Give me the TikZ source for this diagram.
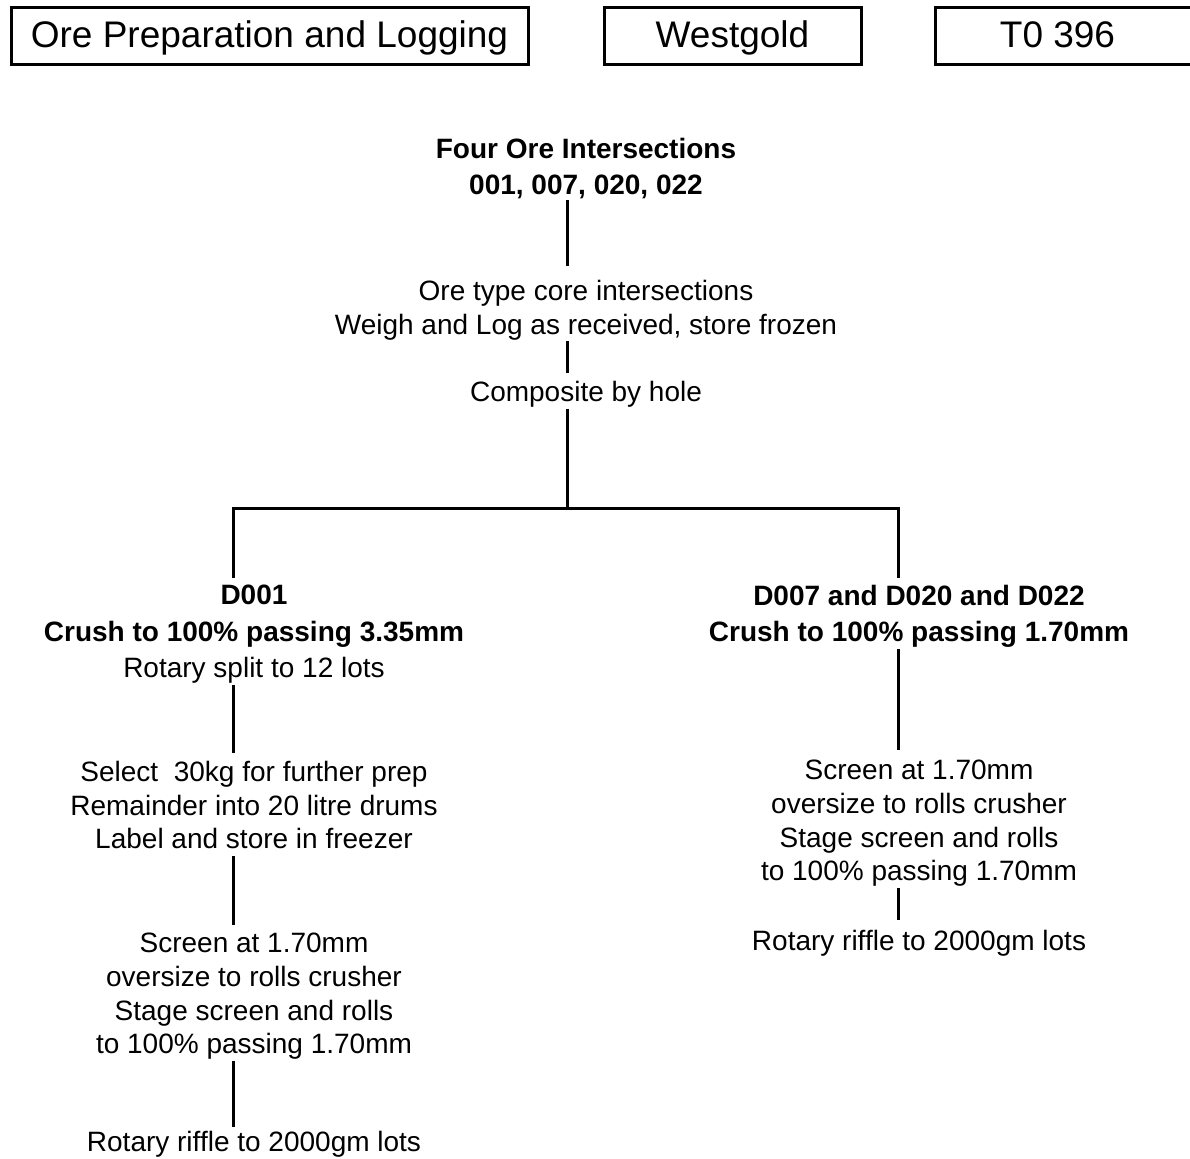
\documentclass[tikz,border=0pt]{standalone}
\usepackage{fontspec}
\setmainfont{Liberation Sans}
\begin{document}
\begin{tikzpicture}[x=1pt,y=-1pt,
  hdr/.style={draw, line width=3pt, minimum height=57pt, inner xsep=0pt, inner ysep=0pt,
    text height=26pt, text depth=3pt, font=\fontsize{37}{44}\selectfont},
  txt/.style={align=center, inner sep=0pt, anchor=north, font=\fontsize{28}{33.7}\selectfont},
  btxt/.style={txt, font=\fontsize{28}{36.5}\selectfont\bfseries},
  conn/.style={line width=3pt},
  gapbelow/.style={shorten >=8pt},
  gapabove/.style={shorten <=1pt}]
\useasboundingbox (0,0) rectangle (1190,1158);

% header boxes
\node[hdr, minimum width=517pt] (hdrA) at (269.5,36.5) {Ore Preparation and Logging};
\node[hdr, minimum width=257pt] (hdrB) at (732.5,36.5) {Westgold};
\node[hdr, minimum width=265pt] (hdrC) at (1067.5,36.5) {\hspace*{-20pt}T0 396};

% column positions
\coordinate (ccol) at (567,0);
\coordinate (lcol) at (233,0);
\coordinate (rcol) at (898,0);
\coordinate (split) at (567,508);

% centre column
\node[btxt, font=\fontsize{28}{36}\selectfont\bfseries] (title) at (586,138) {Four Ore Intersections\\001, 007, 020, 022};
\node[txt] (ore) at (586,280) {Ore type core intersections\\Weigh and Log as received, store frozen};
\node[txt] (comp) at (586,381) {Composite by hole};

% left column
\node[txt, font=\fontsize{28}{36.5}\selectfont] (dA) at (254,585)
  {\textbf{D001}\\\textbf{Crush to 100\% passing 3.35mm}\\Rotary split to 12 lots};
\node[txt] (selA) at (254,761) {Select \ 30kg for further prep\\Remainder into 20 litre drums\\Label and store in freezer};
\node[txt] (scrA) at (254,933) {Screen at 1.70mm\\oversize to rolls crusher\\Stage screen and rolls\\to 100\% passing 1.70mm};
\node[txt] (rotA) at (254,1131) {Rotary riffle to 2000gm lots};

% right column
\node[btxt] (dB) at (919,585) {D007 and D020 and D022\\Crush to 100\% passing 1.70mm};
\node[txt] (scrB) at (919,760) {Screen at 1.70mm\\oversize to rolls crusher\\Stage screen and rolls\\to 100\% passing 1.70mm};
\node[txt] (rotB) at (919,930) {Rotary riffle to 2000gm lots};

% connectors
\draw[conn, gapabove, shorten >=14pt] (title.south -| ccol) -- (ore.north -| ccol);
\draw[conn, gapabove, gapbelow] (ore.south -| ccol) -- (comp.north -| ccol);
\draw[conn, gapabove] (comp.south -| ccol) -- (split);
\draw[conn, shorten >=7pt] (split) -| (dA.north -| lcol);
\draw[conn, shorten >=7pt] (split) -| (dB.north -| rcol);
\draw[conn, gapabove, gapbelow] (dA.south -| lcol) -- (selA.north -| lcol);
\draw[conn, shorten <=7pt, gapbelow] (selA.south -| lcol) -- (scrA.north -| lcol);
\draw[conn, gapabove, shorten >=4pt] (scrA.south -| lcol) -- (rotA.north -| lcol);
\draw[conn, gapabove, shorten >=10pt] (dB.south -| rcol) -- (scrB.north -| rcol);
\draw[conn, gapabove, shorten >=10pt] (scrB.south -| rcol) -- (rotB.north -| rcol);
\end{tikzpicture}
\end{document}
